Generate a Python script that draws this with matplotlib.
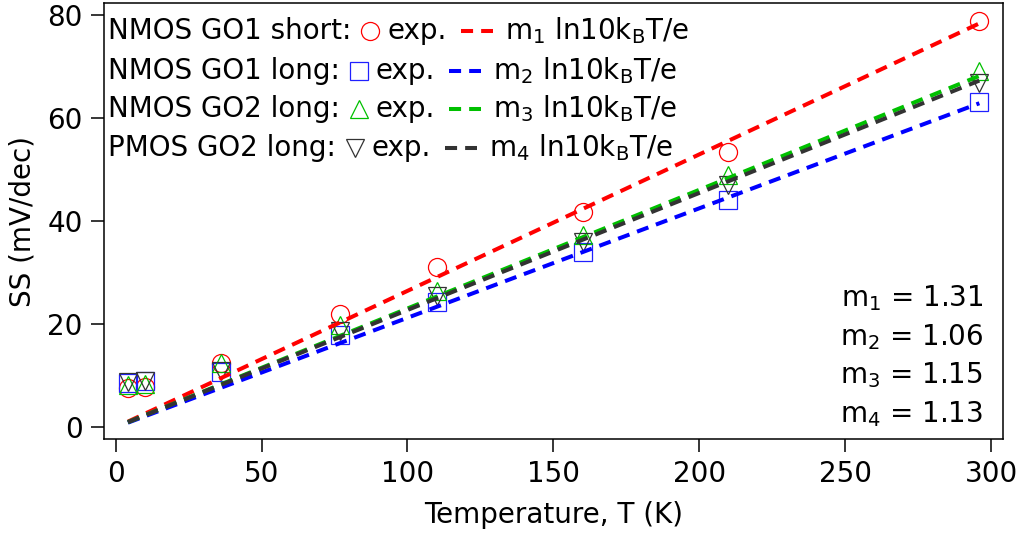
import matplotlib
matplotlib.use('Agg')
import matplotlib.pyplot as plt

plt.rcParams['font.family'] = ['DejaVu Sans']
plt.rcParams['mathtext.default'] = 'regular'

# ---------------- data ----------------
T = [4.2, 10, 36, 77, 110, 160, 210, 296]
ss_nmos_go1_short = [7.6, 7.8, 12.4, 21.9, 31.1, 41.8, 53.5, 78.8]
ss_nmos_go1_long = [8.6, 9.0, 10.8, 17.9, 24.4, 34.1, 44.2, 63.2]
ss_nmos_go2_long = [8.2, 8.5, 12.4, 19.8, 26.5, 37.3, 49.0, 69.2]
ss_pmos_go2_long = [8.8, 9.0, 10.9, 18.7, 25.5, 35.9, 47.1, 66.8]

T_fit = [4.2, 296]
fit_1 = [1.1, 78.4]
fit_2 = [0.9, 62.9]
fit_3 = [1.0, 68.2]
fit_4 = [1.0, 67.3]

m_values = ['1.31', '1.06', '1.15', '1.13']
series_labels = ['NMOS GO1 short:', 'NMOS GO1 long:', 'NMOS GO2 long:', 'PMOS GO2 long:']
x_ticks = [0, 50, 100, 150, 200, 250, 300]
y_ticks = [0, 20, 40, 60, 80]

# ---------------- style ----------------
W, H = 1027, 536
FS = 20
marker_cols = ['#ff0000', '#2020ff', '#00c000', '#333333']
line_cols = ['#ff0000', '#0000ff', '#00c000', '#333333']
markers = ['o', 's', '^', 'v']
MS = 13
LW = 2.9
DASH = (3.0, 2.0)

fig = plt.figure(figsize=(W / 100, H / 100), dpi=100)
ax_l, ax_r, ax_t, ax_b = 104, 1003, 3.3, 439
ax = fig.add_axes([ax_l / W, 1 - ax_b / H, (ax_r - ax_l) / W, (ax_b - ax_t) / H])

all_ss = [ss_nmos_go1_short, ss_nmos_go1_long, ss_nmos_go2_long, ss_pmos_go2_long]
all_fit = [fit_1, fit_2, fit_3, fit_4]

for vals, mk, col in zip(all_ss, markers, marker_cols):
    ax.plot(T, vals, ls='none', marker=mk, ms=MS, mfc='none', mec=col, mew=0.9, zorder=2)
for fit, col in zip(all_fit, line_cols):
    ax.plot(T_fit, fit, color=col, lw=LW, dashes=DASH, zorder=3)

ax.set_xlim(-4.0, 304.1)
ax.set_ylim(-2.27, 82.3)
ax.set_xticks(x_ticks)
ax.set_yticks(y_ticks)
ax.tick_params(direction='out', length=9.4, width=1.1, labelsize=FS, pad=6, colors='black')
for s in ax.spines.values():
    s.set_linewidth(1.1)
ax.set_xlabel('Temperature, T (K)', fontsize=FS, labelpad=9)
ax.set_ylabel('SS (mV/dec)', fontsize=FS, labelpad=8)

# ---------------- legend (manual, in pixel layout) ----------------
fig.canvas.draw()
r = fig.canvas.get_renderer()
inv = ax.transAxes.inverted()

def to_ax(xd, yd):
    return inv.transform((xd, yd))

row_baselines = [39, 79, 117, 156]
for i in range(4):
    yb = H - row_baselines[i]
    yc = yb + 8
    x = 108
    t = ax.text(*to_ax(x, yb), series_labels[i], ha='left', va='baseline', fontsize=FS,
                transform=ax.transAxes)
    bb = t.get_window_extent(r)
    mx = bb.x1 + 19
    px, py = to_ax(mx, yc)
    ax.plot([px], [py], marker=markers[i], ms=MS, mfc='none', mec=marker_cols[i], mew=0.9,
            ls='none', transform=ax.transAxes, clip_on=False)
    t2 = ax.text(*to_ax(mx + 17, yb), 'exp.', ha='left', va='baseline', fontsize=FS,
                 transform=ax.transAxes)
    bb2 = t2.get_window_extent(r)
    x0 = bb2.x1 + 14
    x1 = x0 + 32
    a0 = to_ax(x0, yc)
    a1 = to_ax(x1, yc)
    ax.plot([a0[0], a1[0]], [a0[1], a1[1]], color=line_cols[i], lw=LW, dashes=DASH,
            transform=ax.transAxes, clip_on=False)
    ax.text(*to_ax(x1 + 12, yb), 'm$_{%d}$ ln10k$_{B}$T/e' % (i + 1), ha='left', va='baseline',
            fontsize=FS, transform=ax.transAxes)

m_baselines = [306, 345, 383, 422]
for i in range(4):
    ax.text(*to_ax(983, H - m_baselines[i]), 'm$_{%d}$ = %s' % (i + 1, m_values[i]),
            ha='right', va='baseline', fontsize=FS, transform=ax.transAxes)

fig.savefig('out.png', dpi=100)
